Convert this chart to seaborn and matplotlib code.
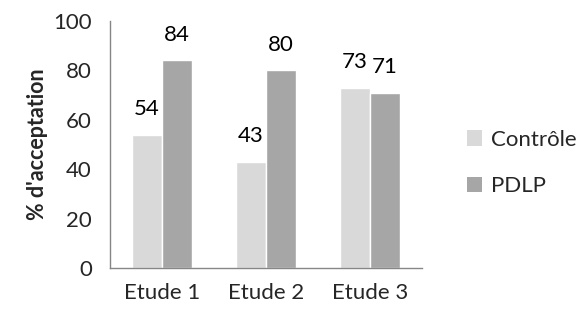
import matplotlib
matplotlib.use("Agg")
import matplotlib.pyplot as plt
import seaborn as sns
import pandas as pd
from matplotlib.patches import Patch

categories = ["Etude 1", "Etude 2", "Etude 3"]
series_names = ["Contrôle", "PDLP"]
controle = [54, 43, 73]
pdlp = [84, 80, 71]
yticks = [0, 20, 40, 60, 80, 100]
colors = ["#d9d9d9", "#a6a6a6"]

df = pd.DataFrame({
    "Etude": categories * 2,
    "Groupe": [series_names[0]] * 3 + [series_names[1]] * 3,
    "Valeur": controle + pdlp,
})

sns.set_style("white")
plt.rcParams["font.family"] = ["Lato", "DejaVu Sans"]

fig = plt.figure(figsize=(5.82, 3.16), dpi=100)
ax = fig.add_axes([0.189, 0.152, 0.536, 0.782])
sns.barplot(data=df, x="Etude", y="Valeur", hue="Groupe", palette=colors,
            width=0.58, gap=0, ax=ax, legend=False, saturation=1)

for cont in ax.containers:
    for bar in cont:
        h = bar.get_height()
        ax.annotate(f"{h:.0f}", (bar.get_x() + bar.get_width() / 2, h),
                    xytext=(0, 11), textcoords="offset points",
                    ha="center", va="bottom", fontsize=16, color="#000000")

ax.set_ylim(0, 100)
ax.set_xlim(-0.5, 2.5)
ax.set_yticks(yticks)
ax.set_yticklabels([str(t) for t in yticks], fontsize=16)
ax.tick_params(axis="y", length=0, pad=13)
ax.set_xticks([0, 1, 2])
ax.set_xticklabels(categories, fontsize=16)
ax.tick_params(axis="x", length=0, pad=11)
# category separator ticks
ax.set_xticks([-0.5, 0.5, 1.5, 2.5], minor=True)
ax.tick_params(axis="x", which="minor", length=6, color="#868686", width=1)
ax.set_xlabel("")
ax.set_ylabel("% d'acceptation", fontsize=15.5, fontweight="bold", labelpad=4)

for s in ["top", "right"]:
    ax.spines[s].set_visible(False)
for s in ["left", "bottom"]:
    ax.spines[s].set_color("#868686")
    ax.spines[s].set_linewidth(1)

handles = [Patch(facecolor=c, edgecolor="none") for c in colors]
fig.legend(handles, series_names, loc="center left", bbox_to_anchor=(0.775, 0.484),
           frameon=False, fontsize=16, handlelength=0.7, handleheight=0.7,
           handletextpad=0.4, labelspacing=1.2, borderpad=0.2)

fig.savefig("out.png", dpi=100)
